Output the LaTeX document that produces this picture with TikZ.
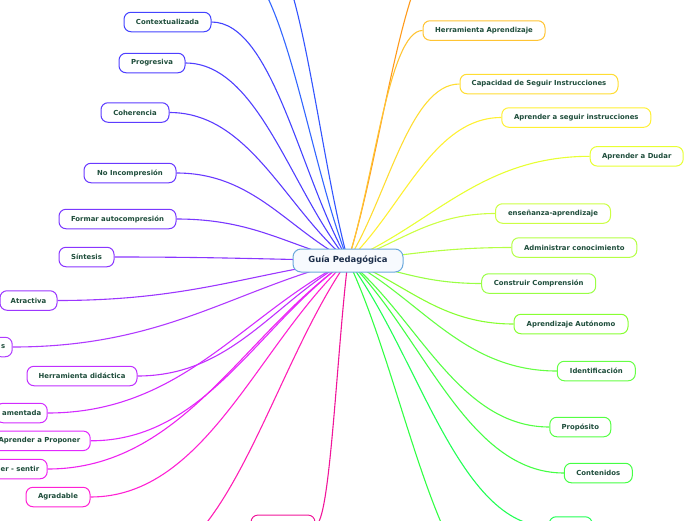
\documentclass[tikz,border=0pt]{standalone}
\usepackage{fontspec}
\setmainfont{DejaVu Sans}
\usetikzlibrary{calc,backgrounds}
\definecolor{txt}{HTML}{1E4D3B}
\definecolor{ctxt}{HTML}{1C2E4A}
\definecolor{cborder}{HTML}{6AA8DC}
\definecolor{cfill}{HTML}{F7FAFE}
\definecolor{cb1}{HTML}{3366FF}
\definecolor{cb2}{HTML}{3355FF}
\definecolor{cctx}{HTML}{4444FF}
\definecolor{cprog}{HTML}{4F3FFF}
\definecolor{ccoh}{HTML}{5C3CFF}
\definecolor{cnoinc}{HTML}{6A3AFF}
\definecolor{cform}{HTML}{7A38FF}
\definecolor{csin}{HTML}{8A36FF}
\definecolor{catr}{HTML}{9C36FF}
\definecolor{cps}{HTML}{B03AFF}
\definecolor{cherr}{HTML}{C030FF}
\definecolor{camen}{HTML}{D22CFF}
\definecolor{cprop}{HTML}{E228FF}
\definecolor{cser}{HTML}{EE22F0}
\definecolor{cagr}{HTML}{FF22D4}
\definecolor{cpk}{HTML}{FF1FB5}
\definecolor{cpinkb}{HTML}{F0169A}
\definecolor{cgreenb}{HTML}{22FF55}
\definecolor{cgr}{HTML}{33FF44}
\definecolor{ccont}{HTML}{44FF44}
\definecolor{cpro}{HTML}{55FF44}
\definecolor{cide}{HTML}{66FF44}
\definecolor{caut}{HTML}{88FF33}
\definecolor{ccon}{HTML}{99FF44}
\definecolor{cadm}{HTML}{B5FF44}
\definecolor{cens}{HTML}{CCFF44}
\definecolor{cdud}{HTML}{E8FF33}
\definecolor{case}{HTML}{FFF033}
\definecolor{ccap}{HTML}{FFDD33}
\definecolor{cha}{HTML}{FFC433}
\definecolor{cor}{HTML}{FF9A1A}
\newcommand\brL[2]{\draw[conn=#1] (C.center) .. controls ($(C.center)!0.35!(#2)$) and ($(#2)!0.45!(C.center |- #2)$) .. (#2);}
\begin{document}
\begin{tikzpicture}[x=1pt,y=-1pt,
  leaf/.style={draw=#1, fill=white, line width=1pt, rounded corners=7pt,
    minimum height=19.5pt, inner sep=0pt, text=txt,
    font=\fontsize{6.9}{8}\selectfont\bfseries},
  conn/.style={draw=#1, line width=1.1pt}]
\useasboundingbox (0,0) rectangle (696,520);

\node[draw=cborder, fill=cfill, line width=1pt, rounded corners=8pt,
  minimum width=110pt, minimum height=23pt, inner sep=0pt, text=ctxt,
  font=\fontsize{8.4}{10}\selectfont\bfseries] (C) at (348,260.5) {Guía Pedagógica};

% left side
\node[leaf=cctx, minimum width=87pt] (ctx) at (167.5,22) {Contextualizada};
\node[leaf=cprog, minimum width=66pt] (prog) at (152,63) {Progresiva};
\node[leaf=ccoh, minimum width=68pt] (coh) at (135,112.5) {Coherencia};
\node[leaf=cnoinc, minimum width=92pt] (noinc) at (130,173) {No Incompresión};
\node[leaf=cform, minimum width=117pt] (form) at (117.5,219) {Formar autocompresión};
\node[leaf=csin, minimum width=55pt] (sin) at (86.5,257) {Síntesis};
\node[leaf=catr, minimum width=57pt] (atr) at (28.5,300.5) {Atractiva};
\node[leaf=cps, anchor=east, inner xsep=7pt] (ps) at (12.7,347) {s};
\node[leaf=cherr, minimum width=110pt] (herr) at (82,376) {Herramienta didáctica};
\node[leaf=camen, anchor=east, inner xsep=6pt] (amen) at (47.7,413) {amentada};
\node[leaf=cprop, anchor=east, inner xsep=10pt] (prop) at (90.7,440.8) {Aprender a Proponer};
\node[leaf=cser, anchor=east, inner xsep=8pt] (ser) at (47.7,469) {er - sentir};
\node[leaf=cagr, minimum width=64pt] (agr) at (58,497) {Agradable};
\node[leaf=cpinkb, minimum width=64pt] (pinkb) at (283,524.8) {};

% right side
\node[leaf=cha, minimum width=122pt] (ha) at (484,30.5) {Herramienta Aprendizaje};
\node[leaf=ccap, minimum width=158pt] (cap) at (539,84) {Capacidad de Seguir Instrucciones};
\node[leaf=case, minimum width=149pt] (ase) at (576.3,117.5) {Aprender a seguir instrucciones};
\node[leaf=cdud, minimum width=93pt] (dud) at (636.7,156.3) {Aprender a Dudar};
\node[leaf=cens, minimum width=115pt] (ens) at (553,213.5) {enseñanza-aprendizaje};
\node[leaf=cadm, minimum width=125pt] (adm) at (574.3,247.5) {Administrar conocimiento};
\node[leaf=ccon, minimum width=114pt] (con) at (538.7,283.5) {Construir Comprensión};
\node[leaf=caut, minimum width=114pt] (aut) at (571,324) {Aprendizaje Autónomo};
\node[leaf=cide, minimum width=78pt] (ide) at (596.3,371) {Identificación};
\node[leaf=cpro, minimum width=61pt] (pro) at (580.3,427) {Propósito};
\node[leaf=ccont, minimum width=68pt] (cont) at (598.3,473) {Contenidos};
\node[leaf=cgreenb, minimum width=43pt] (greenb) at (570.7,526.5) {};

% off-page branch ends
\coordinate (b1) at (230,-40);
\coordinate (b2) at (260,-60);
\coordinate (or) at (450,-60);
\coordinate (pk) at (130,570);
\coordinate (gr) at (510,600);

\begin{pgfonlayer}{background}
\brL{cb1}{b1}
\brL{cb2}{b2}
\brL{cctx}{ctx.east}
\brL{cprog}{prog.east}
\brL{ccoh}{coh.east}
\brL{cnoinc}{noinc.east}
\brL{cform}{form.east}
\brL{csin}{sin.east}
\brL{catr}{atr.east}
\brL{cps}{ps.east}
\brL{cherr}{herr.east}
\brL{camen}{amen.east}
\brL{cprop}{prop.east}
\brL{cser}{ser.east}
\brL{cagr}{agr.east}
\brL{cpk}{pk}
\brL{cpinkb}{pinkb.east}
\brL{cor}{or}
\brL{cha}{ha.west}
\brL{ccap}{cap.west}
\brL{case}{ase.west}
\brL{cdud}{dud.west}
\brL{cens}{ens.west}
\brL{cadm}{adm.west}
\brL{ccon}{con.west}
\brL{caut}{aut.west}
\brL{cide}{ide.west}
\brL{cpro}{pro.west}
\brL{ccont}{cont.west}
\brL{cgr}{gr}
\brL{cgreenb}{greenb.west}
\end{pgfonlayer}
\end{tikzpicture}
\end{document}
